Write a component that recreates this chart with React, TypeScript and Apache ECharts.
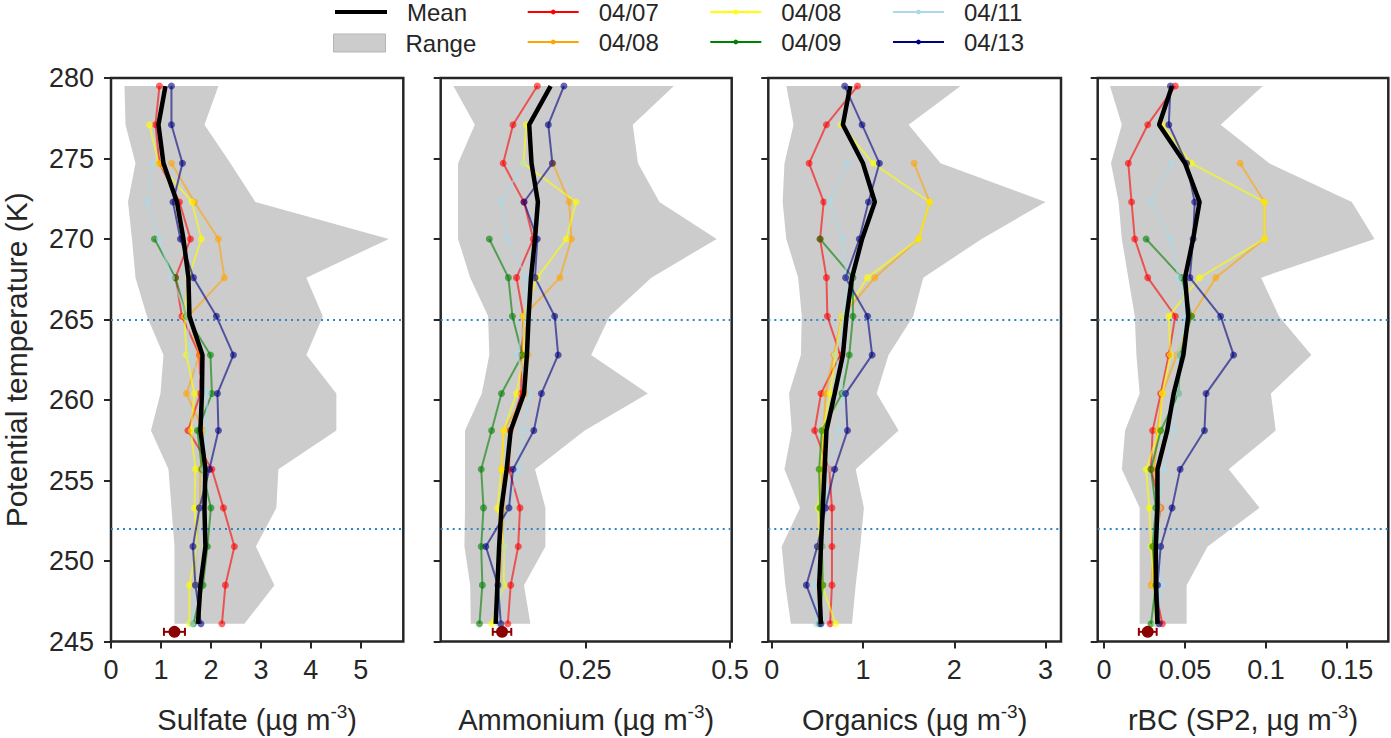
import React, { useEffect, useRef } from "react";
import * as echarts from "echarts";

// potential temperature levels (K), top to bottom
const levels = [279.5, 277.1, 274.7, 272.3, 270.0, 267.6, 265.2, 262.8, 260.4, 258.1, 255.7, 253.3, 250.9, 248.5, 246.1];
const refLevels = [265, 252];

const flights = ["04/07", "04/08", "04/08 ", "04/09", "04/11", "04/13"];
const flightColors = ["#ff0000", "#ffa500", "#ffff00", "#008000", "#add8e6", "#000080"];

// Sulfate
const so4_0407 = [0.97, 0.89, 0.97, 1.37, 1.59, 1.29, 1.42, 1.77, 1.79, 1.54, 2.02, 2.25, 2.47, 2.29, 2.22];
const so4_0408a = [null, null, 1.21, 1.67, 2.15, 2.27, 1.55, 1.77, 1.51, 1.85, 1.79, 1.78, 1.72, 1.68, null];
const so4_0408b = [null, 0.77, 0.95, 1.62, 1.81, 1.55, 1.47, 1.51, 1.67, 1.6, 1.69, 1.67, 1.72, 1.57, 1.57];
const so4_0409 = [null, null, null, null, 0.87, 1.29, 1.51, 1.99, 2.02, 1.73, 1.82, 2.0, 1.93, 1.84, 1.65];
const so4_0411 = [null, null, 0.83, 0.72, 0.97, 1.21, 1.53, 1.57, 1.92, 1.92, 1.85, 1.8, 1.72, 1.7, 1.62];
const so4_0413 = [1.21, 1.21, 1.43, 1.24, 1.39, 1.65, 2.11, 2.45, 2.13, 2.15, 1.97, 1.77, 1.64, 1.69, 1.8];
const so4Mean = [1.09, 0.95, 1.05, 1.32, 1.45, 1.55, 1.57, 1.83, 1.82, 1.79, 1.89, 1.87, 1.89, 1.79, 1.74];
const so4Min = [0.27, 0.29, 0.49, 0.34, 0.42, 0.49, 0.72, 1.05, 0.99, 0.8, 1.15, 1.21, 1.27, 1.27, 1.27];
const so4Max = [2.15, 1.87, 2.39, 2.89, 5.56, 3.91, 4.24, 3.91, 4.51, 4.51, 3.35, 3.31, 2.9, 3.27, 2.67];
const so4Surface = [1.27, 245.6, 0.21];
const so4Ticks = [0, 1, 2, 3, 4, 5];

// Ammonium
const nh4_0407 = [0.167, 0.125, 0.108, 0.144, 0.16, 0.131, 0.143, 0.14, 0.139, 0.12, 0.118, 0.137, 0.134, 0.121, 0.116];
const nh4_0408a = [null, null, 0.194, 0.222, 0.226, 0.206, 0.143, 0.151, 0.147, 0.109, 0.105, 0.11, 0.105, 0.105, null];
const nh4_0408b = [null, 0.148, 0.143, 0.234, 0.217, 0.167, 0.143, 0.143, 0.131, 0.109, 0.105, 0.098, 0.109, 0.109, 0.088];
const nh4_0409 = [null, null, null, null, 0.084, 0.117, 0.124, 0.141, 0.105, 0.088, 0.07, 0.074, 0.07, 0.072, 0.067];
const nh4_0411 = [null, null, 0.143, 0.104, 0.115, 0.148, 0.148, 0.132, 0.154, 0.143, 0.136, 0.115, 0.109, 0.105, 0.1];
const nh4_0413 = [0.213, 0.186, 0.193, 0.144, 0.167, 0.163, 0.197, 0.203, 0.174, 0.161, 0.125, 0.118, 0.078, 0.099, 0.104];
const nh4Mean = [0.19, 0.153, 0.157, 0.168, 0.163, 0.156, 0.152, 0.149, 0.144, 0.121, 0.114, 0.105, 0.101, 0.098, 0.095];
const nh4Min = [0.022, 0.059, 0.03, 0.03, 0.03, 0.051, 0.082, 0.084, 0.071, 0.042, 0.042, 0.042, 0.041, 0.051, 0.052];
const nh4Max = [0.403, 0.332, 0.341, 0.378, 0.477, 0.364, 0.292, 0.26, 0.358, 0.249, 0.163, 0.181, 0.181, 0.144, 0.155];
const nh4Surface = [0.106, 245.6, 0.016];
const nh4Ticks = [0.25, 0.5];

// Organics
const org_0407 = [0.94, 0.6, 0.41, 0.57, 0.53, 0.6, 0.61, 0.75, 0.54, 0.47, 0.63, 0.66, 0.66, 0.66, 0.64];
const org_0408a = [null, null, 1.56, 1.73, 1.61, 1.13, 0.77, 0.68, 0.59, 0.57, 0.55, 0.55, 0.55, 0.55, null];
const org_0408b = [null, 0.76, 1.11, 1.73, 1.61, 1.05, 0.77, 0.7, 0.64, 0.56, 0.53, 0.51, 0.52, 0.55, 0.7];
const org_0409 = [null, null, null, null, 0.53, 0.89, 0.89, 0.85, 0.77, 0.55, 0.52, 0.53, 0.55, 0.56, 0.52];
const org_0411 = [null, null, 0.83, 0.63, 0.78, 0.82, 0.79, 0.7, 0.79, 0.73, 0.62, 0.58, 0.55, 0.46, 0.49];
const org_0413 = [0.8, 0.99, 1.18, 1.06, 0.96, 0.81, 1.05, 1.1, 0.81, 0.83, 0.69, 0.59, 0.5, 0.38, 0.54];
const orgMean = [0.86, 0.78, 1.0, 1.13, 0.99, 0.88, 0.82, 0.78, 0.69, 0.6, 0.58, 0.56, 0.54, 0.52, 0.54];
const orgMin = [0.16, 0.24, 0.14, 0.12, 0.16, 0.29, 0.33, 0.32, 0.19, 0.22, 0.14, 0.31, 0.11, 0.15, 0.21];
const orgMax = [2.07, 1.5, 1.85, 3.0, 2.3, 1.66, 1.55, 1.28, 1.15, 1.39, 0.92, 1.01, 0.97, 0.92, 0.88];
const orgTicks = [0, 1, 2, 3];

// rBC
const rbc_0407 = [0.044, 0.027, 0.015, 0.017, 0.019, 0.027, 0.044, 0.04, 0.035, 0.03, 0.029, 0.035, 0.031, 0.031, 0.036];
const rbc_0408a = [null, null, 0.084, 0.099, 0.099, 0.069, 0.054, 0.045, 0.036, 0.033, 0.031, 0.035, 0.031, 0.029, null];
const rbc_0408b = [null, 0.036, 0.054, 0.099, 0.099, 0.059, 0.04, 0.041, 0.036, 0.034, 0.026, 0.028, 0.029, 0.031, 0.032];
const rbc_0409 = [null, null, null, null, 0.026, 0.048, 0.054, 0.047, 0.046, 0.035, 0.029, 0.032, 0.03, 0.032, 0.029];
const rbc_0411 = [null, null, 0.042, 0.029, 0.041, 0.046, 0.05, 0.046, 0.046, 0.043, 0.037, 0.034, 0.034, 0.036, 0.032];
const rbc_0413 = [0.041, 0.04, 0.051, 0.056, 0.055, 0.053, 0.072, 0.08, 0.063, 0.062, 0.047, 0.042, 0.035, 0.033, 0.034];
const rbcMean = [0.042, 0.034, 0.05, 0.059, 0.055, 0.05, 0.052, 0.049, 0.043, 0.039, 0.033, 0.033, 0.032, 0.032, 0.033];
const rbcMin = [0.0037, 0.011, 0.0043, 0.009, 0.011, 0.015, 0.019, 0.02, 0.022, 0.013, 0.011, 0.022, 0.022, 0.022, 0.022];
const rbcMax = [0.098, 0.072, 0.102, 0.153, 0.167, 0.097, 0.108, 0.128, 0.103, 0.106, 0.077, 0.096, 0.064, 0.051, 0.051];
const rbcSurface = [0.027, 245.6, 0.0055];
const rbcTicks = [0, 0.05, 0.1, 0.15];

const FONT = "'Liberation Sans', Arial, Helvetica, sans-serif";
const INK = "#262626";

const panels = [
  {
    name: "Sulfate (µg m{sup|-3})",
    flights: [so4_0407, so4_0408a, so4_0408b, so4_0409, so4_0411, so4_0413],
    mean: so4Mean, lo: so4Min, hi: so4Max, surface: so4Surface, ticks: so4Ticks,
    xMin: 0, xMax: 5.85, left: 111, width: 292.3,
  },
  {
    name: "Ammonium (µg m{sup|-3})",
    flights: [nh4_0407, nh4_0408a, nh4_0408b, nh4_0409, nh4_0411, nh4_0413],
    mean: nh4Mean, lo: nh4Min, hi: nh4Max, surface: nh4Surface, ticks: nh4Ticks,
    xMin: 0, xMax: 0.503, left: 440.7, width: 291,
  },
  {
    name: "Organics (µg m{sup|-3})",
    flights: [org_0407, org_0408a, org_0408b, org_0409, org_0411, org_0413],
    mean: orgMean, lo: orgMin, hi: orgMax, surface: null, ticks: orgTicks,
    xMin: -0.037, xMax: 3.169, left: 768.3, width: 292.7,
  },
  {
    name: "rBC (SP2, µg m{sup|-3})",
    flights: [rbc_0407, rbc_0408a, rbc_0408b, rbc_0409, rbc_0411, rbc_0413],
    mean: rbcMean, lo: rbcMin, hi: rbcMax, surface: rbcSurface, ticks: rbcTicks,
    xMin: -0.0039, xMax: 0.1755, left: 1097.7, width: 290.6,
  },
];

const toPoints = (vals: (number | null)[]) =>
  vals
    .map((v, k) => (v === null ? null : [v, levels[k]]))
    .filter((p) => p !== null);

const App: React.FC = () => {
  const chartRef = useRef<HTMLDivElement>(null);

  useEffect(() => {
    document.body.style.margin = "0";
    document.body.style.overflow = "hidden";
    const chartDom = chartRef.current;
    if (!chartDom) return;
    const myChart = echarts.init(chartDom, null, { renderer: "svg" });

    const tickLine = { color: INK, width: 2 };

    const grid = panels.map((p) => ({
      left: p.left,
      top: 78,
      width: p.width,
      height: 563.5,
      show: true,
      borderColor: INK,
      borderWidth: 2.5,
      backgroundColor: "transparent",
      containLabel: false,
      outerBoundsMode: "none",
    }));

    const xAxis = panels.map((p, i) => ({
      type: "value",
      gridIndex: i,
      min: p.xMin,
      max: p.xMax,
      axisLine: { show: false, onZero: false },
      axisTick: { show: true, length: 7, lineStyle: tickLine, customValues: p.ticks },
      axisLabel: { customValues: p.ticks, fontSize: 27, color: INK, margin: 15, fontFamily: FONT },
      splitLine: { show: false },
      name: p.name,
      nameLocation: "middle",
      nameGap: 60,
      nameTextStyle: {
        fontSize: 29,
        color: INK,
        fontFamily: FONT,
        rich: { sup: { fontSize: 19, color: INK, fontFamily: FONT, padding: [0, 0, 18, 0] } },
      },
    }));

    const yAxis = panels.map((p, i) => ({
      type: "value",
      gridIndex: i,
      min: 245,
      max: 280,
      interval: 5,
      axisLine: { show: false, onZero: false },
      axisTick: { show: true, length: 7, lineStyle: tickLine },
      axisLabel: { show: i === 0, fontSize: 27, color: INK, margin: 17, fontFamily: FONT },
      splitLine: { show: false },
      name: i === 0 ? "Potential temperature (K)" : "",
      nameLocation: "middle",
      nameGap: 80,
      nameTextStyle: { fontSize: 30, color: INK, fontFamily: FONT },
    }));

    const series: any[] = [];
    panels.forEach((p, i) => {
      series.push({
        type: "custom",
        name: "Range",
        xAxisIndex: i,
        yAxisIndex: i,
        silent: true,
        z: 1,
        itemStyle: { color: "#cccccc" },
        data: levels.map((lv, k) => [p.lo[k], lv, p.hi[k]]),
        renderItem: (params: any, api: any) => {
          if (params.dataIndex !== 0) return null;
          const pts: number[][] = [];
          levels.forEach((lv, k) => pts.push(api.coord([p.lo[k], lv])));
          for (let k = levels.length - 1; k >= 0; k--) pts.push(api.coord([p.hi[k], levels[k]]));
          return { type: "polygon", shape: { points: pts }, style: { fill: "#cccccc" } };
        },
      });

      p.flights.forEach((vals, j) => {
        series.push({
          type: "line",
          name: flights[j],
          xAxisIndex: i,
          yAxisIndex: i,
          silent: true,
          z: 2,
          symbol: "circle",
          symbolSize: 7,
          showSymbol: true,
          lineStyle: { color: flightColors[j], width: 2, opacity: 0.6 },
          itemStyle: { color: flightColors[j], opacity: 0.6 },
          data: toPoints(vals),
          markLine:
            j === 0
              ? {
                  silent: true,
                  symbol: "none",
                  z: 1.5,
                  label: { show: false },
                  lineStyle: { color: "#2f86c6", width: 2, type: [2, 4] },
                  data: refLevels.map((v) => ({ yAxis: v })),
                }
              : undefined,
        });
      });

      series.push({
        type: "line",
        name: "Mean",
        xAxisIndex: i,
        yAxisIndex: i,
        silent: true,
        z: 3,
        symbol: "none",
        lineStyle: { color: "#000000", width: 4.5 },
        itemStyle: { color: "#000000" },
        data: toPoints(p.mean),
      });

      if (p.surface) {
        series.push({
          type: "custom",
          name: "surface",
          xAxisIndex: i,
          yAxisIndex: i,
          silent: true,
          z: 4,
          data: [p.surface],
          renderItem: (params: any, api: any) => {
            const x = api.value(0);
            const y = api.value(1);
            const e = api.value(2);
            const c = api.coord([x, y]);
            const l = api.coord([x - e, y]);
            const r = api.coord([x + e, y]);
            const st = { stroke: "#8b0000", lineWidth: 2 };
            return {
              type: "group",
              children: [
                { type: "line", shape: { x1: l[0], y1: c[1], x2: r[0], y2: c[1] }, style: st },
                { type: "line", shape: { x1: l[0], y1: c[1] - 4, x2: l[0], y2: c[1] + 4 }, style: st },
                { type: "line", shape: { x1: r[0], y1: c[1] - 4, x2: r[0], y2: c[1] + 4 }, style: st },
                { type: "circle", shape: { cx: c[0], cy: c[1], r: 6 }, style: { fill: "#8b0000" } },
              ],
            };
          },
        });
      }
    });

    const legendBase = {
      orient: "vertical",
      padding: 0,
      itemGap: 6,
      selectedMode: false,
      formatter: (n: string) => n.trim(),
      textStyle: { fontSize: 24, color: INK, fontFamily: FONT, padding: [0, 0, 0, 15] },
      lineStyle: { opacity: 1 },
      itemStyle: { opacity: 1 },
    };

    const legend = [
      {
        ...legendBase,
        left: 333,
        top: 0,
        itemWidth: 52,
        itemHeight: 4,
        lineStyle: { opacity: 1, width: 4 },
        data: ["Mean"],
      },
      {
        ...legendBase,
        left: 333,
        top: 31,
        itemWidth: 52,
        itemHeight: 18,
        data: [
          { name: "Range", icon: "rect", itemStyle: { color: "#cccccc", borderColor: "#b5b5b5", borderWidth: 1 } },
        ],
      },
      { ...legendBase, left: 526.7, top: 0, itemWidth: 51, itemHeight: 6, data: [flights[0], flights[1]] },
      { ...legendBase, left: 709.3, top: 0, itemWidth: 51, itemHeight: 6, data: [flights[2], flights[3]] },
      { ...legendBase, left: 892, top: 0, itemWidth: 51, itemHeight: 6, data: [flights[4], flights[5]] },
    ];

    const option: any = {
      animation: false,
      backgroundColor: "#ffffff",
      textStyle: { fontFamily: FONT },
      legend,
      grid,
      xAxis,
      yAxis,
      series,
    };

    myChart.setOption(option);

    return () => {
      myChart.dispose();
    };
  }, []);

  return <div ref={chartRef} style={{ width: "1391px", height: "738px" }} />;
};

export default App;
